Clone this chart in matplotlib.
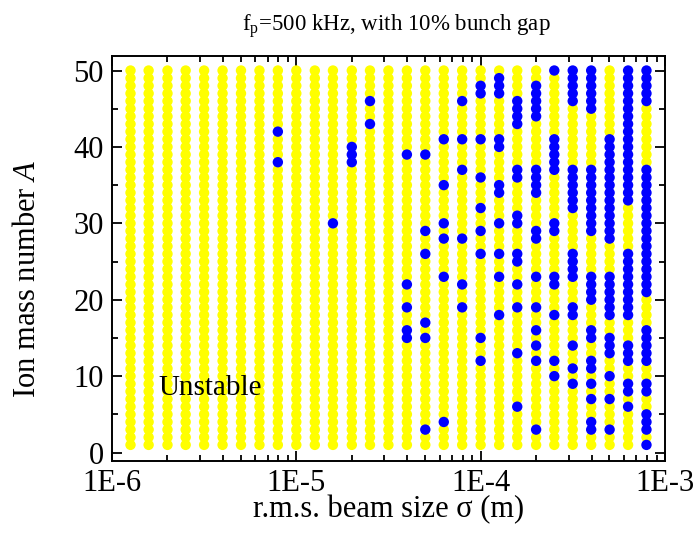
"""
Ion stability map: f_p = 500 kHz, 10% bunch gap
"""

import numpy as np
import matplotlib
matplotlib.use('Agg')
import matplotlib.pyplot as plt
from matplotlib.ticker import FixedLocator, FuncFormatter, MultipleLocator

# r.m.s. beam size of each scanned column (m)
sigma = [1.26e-6, 1.58e-6, 2.0e-6, 2.51e-6, 3.16e-6, 3.98e-6, 5.01e-6, 6.31e-6,
         7.94e-6, 1.0e-5, 1.26e-5, 1.58e-5, 2.0e-5, 2.51e-5, 3.16e-5, 3.98e-5,
         5.01e-5, 6.31e-5, 7.94e-5, 1.0e-4, 1.26e-4, 1.58e-4, 2.0e-4, 2.51e-4,
         3.16e-4, 3.98e-4, 5.01e-4, 6.31e-4, 7.94e-4]

# ion mass numbers scanned
mass_numbers = list(range(1, 51))

# stable mass numbers (blue) in each column, same order as sigma
stable = [
    [], [], [], [], [], [], [], [],
    [38, 42],
    [],
    [],
    [30],
    [38, 39, 40],
    [43, 46],
    [],
    [15, 16, 19, 22, 39],
    [3, 15, 17, 26, 29, 39],
    [4, 23, 28, 30, 35, 41],
    [19, 22, 28, 37, 41, 46],
    [12, 15, 26, 29, 32, 36, 41, 47, 48],
    [18, 23, 26, 30, 34, 35, 40, 41, 47, 48, 49],
    [6, 13, 19, 22, 25, 26, 30, 31, 36, 37, 43, 44, 45, 46],
    [3, 12, 14, 16, 19, 23, 28, 29, 34, 35, 36, 37, 44, 45, 46, 47, 48],
    [10, 12, 18, 22, 23, 29, 30, 37, 38, 39, 40, 41, 50],
    [9, 11, 14, 18, 19, 23, 24, 25, 26, 32, 33, 34, 35, 36, 37,
     46, 47, 48, 49, 50],
    [3, 4, 7, 9, 11, 12, 15, 16, 20, 21, 22, 23, 29, 30, 31, 32, 33, 34,
     35, 36, 37, 45, 46, 47, 48, 49, 50],
    [3, 7, 10, 13, 14, 15, 18, 19, 20, 21, 22, 23, 28, 29, 30, 31, 32, 33,
     34, 35, 36, 37, 38, 39, 40, 41],
    [6, 8, 9, 12, 13, 14, 18, 19, 20, 21, 22, 23, 24, 25, 26, 33, 34, 35,
     36, 37, 38, 39, 40, 41, 42, 43, 44, 45, 46, 47, 48, 49, 50],
    [1, 3, 4, 5, 8, 9, 12, 13, 14, 15, 16, 21, 22, 23, 24, 25, 26, 27, 28,
     29, 30, 31, 32, 33, 34, 35, 36, 37, 46, 47, 48, 49, 50],
]

plt.rcParams['font.family'] = ['Liberation Serif', 'DejaVu Serif']
plt.rcParams['mathtext.fontset'] = 'custom'
plt.rcParams['mathtext.rm'] = 'Liberation Serif'
plt.rcParams['mathtext.it'] = 'Liberation Serif:italic'

fig = plt.figure(figsize=(6.97, 5.41), dpi=100)
ax = fig.add_axes([0.1607, 0.148, 0.7933, 0.7485])

ux, uy, sx, sy = [], [], [], []
for s, blues in zip(sigma, stable):
    for a in mass_numbers:
        if a in blues:
            sx.append(s)
            sy.append(a)
        else:
            ux.append(s)
            uy.append(a)

ax.scatter(ux, uy, s=56, c='#ffff00', edgecolors='none', zorder=2)
ax.scatter(sx, sy, s=56, c='#0000ff', edgecolors='none', zorder=3)

ax.set_xscale('log')
ax.set_xlim(1e-6, 1e-3)
ax.set_ylim(-1.1, 51.9)

ax.xaxis.set_major_locator(FixedLocator([1e-6, 1e-5, 1e-4, 1e-3]))
ax.xaxis.set_major_formatter(FuncFormatter(lambda v, p: '1E%d' % round(np.log10(v))))
ax.yaxis.set_major_locator(MultipleLocator(10))
ax.yaxis.set_minor_locator(MultipleLocator(5))

ax.tick_params(which='both', direction='in', top=True, right=True,
               labelsize=22, width=1.3)
ax.tick_params(which='major', length=7)
ax.tick_params(which='minor', length=4)
ax.tick_params(axis='x', which='major', pad=6)
ax.tick_params(axis='y', which='major', pad=6)
for sp in ax.spines.values():
    sp.set_linewidth(1.4)

ax.set_xlabel(r'r.m.s. beam size σ (m)', fontsize=22)
ax.xaxis.set_label_coords(0.5, -0.085)
ax.set_ylabel(r'Ion mass number $\mathit{A}$', fontsize=22)
ax.yaxis.set_label_coords(-0.127, 0.45)
ax.set_title(r'f$_{\rm p}$=500 kHz, with 10% bunch gap', fontsize=16.5,
             x=0.515, pad=18)

ax.text(3.4e-6, 8.4, 'Unstable', fontsize=21, ha='center', va='center', zorder=4)

fig.savefig('out.png', dpi=100)
